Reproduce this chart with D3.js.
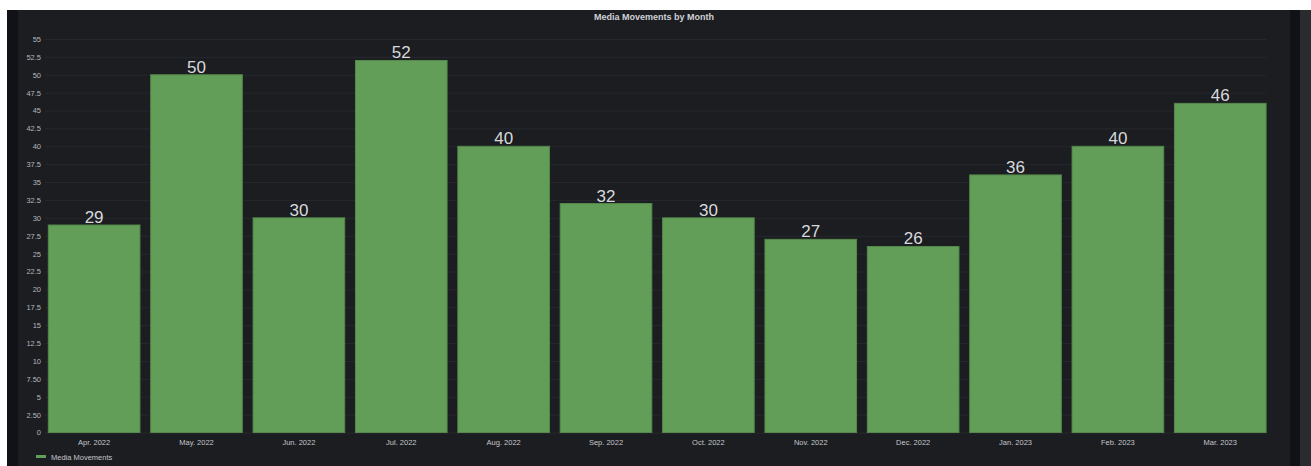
<!DOCTYPE html>
<html>
<head>
<meta charset="utf-8">
<script src="https://cdn.jsdelivr.net/npm/d3@7/dist/d3.min.js"></script>
<style>
html,body{margin:0;padding:0;background:#ffffff;}
svg{display:block;}
text{font-family:"Liberation Sans",Arial,sans-serif;}
</style>
</head>
<body>
<svg id="chart" width="1311" height="466"></svg>
<script>
const categories = ["Apr. 2022","May. 2022","Jun. 2022","Jul. 2022","Aug. 2022","Sep. 2022","Oct. 2022","Nov. 2022","Dec. 2022","Jan. 2023","Feb. 2023","Mar. 2023"];
const values = [29,50,30,52,40,32,30,27,26,36,40,46];
const yTicks = [0,2.5,5,7.5,10,12.5,15,17.5,20,22.5,25,27.5,30,32.5,35,37.5,40,42.5,45,47.5,50,52.5,55];
const yTickLabels = ["0","2.50","5","7.50","10","12.5","15","17.5","20","22.5","25","27.5","30","32.5","35","37.5","40","42.5","45","47.5","50","52.5","55"];
const seriesName = "Media Movements";
const title = "Media Movements by Month";

const svg = d3.select("#chart");
// panel backgrounds
svg.append("rect").attr("x",7).attr("y",10).attr("width",1304).attr("height",456).attr("fill","#111217");
svg.append("rect").attr("x",18).attr("y",10).attr("width",1272).attr("height",456).attr("fill","#1b1d21");
svg.append("rect").attr("x",1300).attr("y",10).attr("width",11).attr("height",456).attr("fill","#2a2b2e");

const x = d3.scaleBand().domain(categories).range([43.2, 1271.2]).paddingInner(0.105).paddingOuter(0.05);
const y = d3.scaleLinear().domain([0,55]).range([432.5,39]);

// gridlines
svg.append("g").selectAll("line").data(yTicks).join("line")
  .attr("x1",45).attr("x2",1266)
  .attr("y1",d=>y(d)+0.5).attr("y2",d=>y(d)+0.5)
  .attr("stroke","#26282d").attr("stroke-width",1);

// y axis
const yAxis = d3.axisLeft(y).tickValues(yTicks).tickSize(0).tickPadding(0)
  .tickFormat((d,i)=>yTickLabels[i]);
const ga = svg.append("g").attr("transform","translate(41,0)").call(yAxis);
ga.select(".domain").remove();
ga.selectAll("text").attr("fill","#b4b6bb").style("font-size","7.5px").attr("dy","0.32em");

// bars
svg.append("g").selectAll("rect").data(values).join("rect")
  .attr("x",(d,i)=>x(categories[i]))
  .attr("width",x.bandwidth())
  .attr("y",d=>y(d))
  .attr("height",d=>y(0)-y(d))
  .attr("fill","#629e57")
  .attr("stroke","#55894b").attr("stroke-width",1);

// value labels
svg.append("g").selectAll("text").data(values).join("text")
  .attr("x",(d,i)=>x(categories[i])+x.bandwidth()/2)
  .attr("y",d=>y(d)-2)
  .attr("text-anchor","middle")
  .attr("fill","#d8d9dc")
  .style("font-size","17px")
  .text(d=>d);

// x axis
const xAxis = d3.axisBottom(x).tickSize(0).tickPadding(0);
const gx = svg.append("g").attr("transform","translate(0,440)").call(xAxis);
gx.select(".domain").remove();
gx.selectAll("text").attr("fill","#c4c6cb").style("font-size","7.5px");

// title
svg.append("text").attr("x",654).attr("y",20).attr("text-anchor","middle")
  .attr("fill","#d0d1d6").style("font-size","9px").style("font-weight","bold").text(title);

// legend
svg.append("line").attr("x1",36).attr("x2",46).attr("y1",456.5).attr("y2",456.5)
  .attr("stroke","#629e57").attr("stroke-width",3);
svg.append("text").attr("x",51).attr("y",459.5).attr("fill","#c4c6cb")
  .style("font-size","7.5px").text(seriesName);
</script>
</body>
</html>
